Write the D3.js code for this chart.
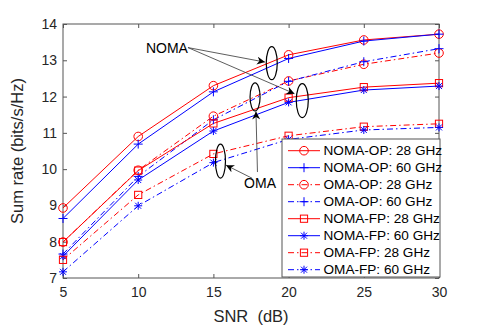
<!DOCTYPE html>
<html>
<head>
<meta charset="utf-8">
<script src="https://cdn.jsdelivr.net/npm/d3@7"></script>
<style>
  body { margin: 0; background: #fff; }
  svg { font-family: "Liberation Sans", Arial, sans-serif; }
</style>
</head>
<body>
<svg width="485" height="325"></svg>
<script>
let snr = [5, 10, 15, 20, 25, 30];
let nomaOp28 = [8.93, 10.90, 12.30, 13.15, 13.56, 13.72];
let nomaOp60 = [8.64, 10.69, 12.13, 13.05, 13.53, 13.72];
let omaOp28 = [7.99, 9.97, 11.46, 12.43, 12.89, 13.20];
let omaOp60 = [7.66, 9.80, 11.36, 12.42, 12.96, 13.32];
let nomaFp28 = [7.99, 9.96, 11.26, 11.97, 12.26, 12.37];
let nomaFp60 = [7.60, 9.70, 11.05, 11.84, 12.18, 12.29];
let omaFp28 = [7.50, 9.29, 10.42, 10.92, 11.17, 11.25];
let omaFp60 = [7.17, 8.99, 10.18, 10.82, 11.08, 11.15];
let xTicks = [5, 10, 15, 20, 25, 30];
let yTicks = [7, 8, 9, 10, 11, 12, 13, 14];

let series = [
  {name: 'NOMA-OP: 28 GHz', values: nomaOp28, color: 'red', dash: null, marker: 'circle'},
  {name: 'NOMA-OP: 60 GHz', values: nomaOp60, color: 'blue', dash: null, marker: 'plus'},
  {name: 'OMA-OP: 28 GHz', values: omaOp28, color: 'red', dash: '6,3,1.5,3', marker: 'circle'},
  {name: 'OMA-OP: 60 GHz', values: omaOp60, color: 'blue', dash: '6,3,1.5,3', marker: 'plus'},
  {name: 'NOMA-FP: 28 GHz', values: nomaFp28, color: 'red', dash: null, marker: 'square'},
  {name: 'NOMA-FP: 60 GHz', values: nomaFp60, color: 'blue', dash: null, marker: 'star'},
  {name: 'OMA-FP: 28 GHz', values: omaFp28, color: 'red', dash: '6,3,1.5,3', marker: 'square'},
  {name: 'OMA-FP: 60 GHz', values: omaFp60, color: 'blue', dash: '6,3,1.5,3', marker: 'star'}
];

let margin = {left: 63, right: 46, top: 24, bottom: 47};
let w = 485, h = 325;
let svg = d3.select('svg');
let axisColor = '#555';

let xScale = d3.scaleLinear().domain([5, 30]).range([margin.left, w - margin.right]);
let yScale = d3.scaleLinear().domain([7, 14]).range([h - margin.bottom, margin.top]);

// box
svg.append('rect')
  .attr('x', xScale(5)).attr('y', yScale(14))
  .attr('width', xScale(30) - xScale(5)).attr('height', yScale(7) - yScale(14))
  .attr('fill', 'none').attr('stroke', axisColor).attr('stroke-width', 1);

let styleAxis = g => {
  g.select('.domain').remove();
  g.selectAll('line').attr('stroke', axisColor);
  g.selectAll('text').attr('fill', '#262626').style('font-size', '14px').style('font-family', '"Liberation Sans", Arial, sans-serif');
};

svg.append('g')
  .attr('transform', 'translate(0,' + yScale(7) + ')')
  .call(d3.axisBottom(xScale).tickValues(xTicks).tickSizeInner(-4).tickPadding(9).tickFormat(d3.format('d')))
  .call(styleAxis);
svg.append('g')
  .attr('transform', 'translate(0,' + yScale(14) + ')')
  .call(d3.axisTop(xScale).tickValues(xTicks).tickSizeInner(-4).tickFormat(''))
  .call(styleAxis);
svg.append('g')
  .attr('transform', 'translate(' + xScale(5) + ',0)')
  .call(d3.axisLeft(yScale).tickValues(yTicks).tickSizeInner(-4).tickPadding(6).tickFormat(d3.format('d')))
  .call(styleAxis);
svg.append('g')
  .attr('transform', 'translate(' + xScale(30) + ',0)')
  .call(d3.axisRight(yScale).tickValues(yTicks).tickSizeInner(-4).tickFormat(''))
  .call(styleAxis);

// axis labels
svg.append('text')
  .attr('x', (xScale(5) + xScale(30)) / 2).attr('y', 322)
  .attr('text-anchor', 'middle').attr('fill', '#262626')
  .style('font-size', '16.5px').attr('xml:space', 'preserve')
  .text('SNR  (dB)');
svg.append('text')
  .attr('transform', 'translate(23,' + ((yScale(7) + yScale(14)) / 2) + ') rotate(-90)')
  .attr('text-anchor', 'middle').attr('fill', '#262626')
  .style('font-size', '16.5px')
  .text('Sum rate (bits/s/Hz)');

let drawMarker = (g, type, color, x, y) => {
  if (type === 'circle') {
    g.append('circle').attr('cx', x).attr('cy', y).attr('r', 4.3)
      .attr('fill', 'none').attr('stroke', color).attr('stroke-width', 1);
  } else if (type === 'square') {
    g.append('rect').attr('x', x - 3.6).attr('y', y - 3.6).attr('width', 7.2).attr('height', 7.2)
      .attr('fill', 'none').attr('stroke', color).attr('stroke-width', 1);
  } else if (type === 'plus') {
    g.append('path').attr('d', `M${x - 4.5},${y}H${x + 4.5}M${x},${y - 4.5}V${y + 4.5}`)
      .attr('stroke', color).attr('stroke-width', 1);
  } else if (type === 'star') {
    let a = 4, b = 3;
    g.append('path').attr('d', `M${x - a},${y}H${x + a}M${x},${y - a}V${y + a}M${x - b},${y - b}L${x + b},${y + b}M${x - b},${y + b}L${x + b},${y - b}`)
      .attr('stroke', color).attr('stroke-width', 1);
  }
};

let line = d3.line().x((d, i) => xScale(snr[i])).y(d => yScale(d));

let plot = svg.append('g');
series.forEach(s => {
  plot.append('path')
    .datum(s.values)
    .attr('d', line)
    .attr('fill', 'none')
    .attr('stroke', s.color)
    .attr('stroke-width', 1)
    .attr('stroke-dasharray', s.dash);
});
series.forEach(s => {
  s.values.forEach((v, i) => drawMarker(plot, s.marker, s.color, xScale(snr[i]), yScale(v)));
});

// annotations (data coordinates)
let defs = svg.append('defs');
defs.append('marker')
  .attr('id', 'arrow').attr('viewBox', '0 0 10 10')
  .attr('refX', 10).attr('refY', 5)
  .attr('markerWidth', 10).attr('markerHeight', 8)
  .attr('markerUnits', 'userSpaceOnUse')
  .attr('orient', 'auto')
  .append('path').attr('d', 'M0,0L10,5L0,10L3,5Z').attr('fill', '#000');

let ellipses = [
  {x: 18.88, y: 12.92, rx: 5.5, ry: 16.5},
  {x: 20.91, y: 11.89, rx: 6, ry: 17},
  {x: 17.77, y: 11.99, rx: 5, ry: 14},
  {x: 15.47, y: 10.22, rx: 5, ry: 17}
];
ellipses.forEach(e => {
  svg.append('ellipse')
    .attr('cx', xScale(e.x)).attr('cy', yScale(e.y))
    .attr('rx', e.rx).attr('ry', e.ry)
    .attr('fill', 'none').attr('stroke', '#000').attr('stroke-width', 1.2);
});

let arrows = [
  {x1: 13.31, y1: 13.35, x2: 18.43, y2: 12.95},
  {x1: 13.31, y1: 13.35, x2: 20.39, y2: 12.08},
  {x1: 17.93, y1: 9.92, x2: 17.83, y2: 11.59},
  {x1: 17.57, y1: 9.75, x2: 15.84, y2: 10.11}
];
arrows.forEach(a => {
  svg.append('line')
    .attr('x1', xScale(a.x1)).attr('y1', yScale(a.y1))
    .attr('x2', xScale(a.x2)).attr('y2', yScale(a.y2))
    .attr('stroke', '#333').attr('stroke-width', 0.8)
    .attr('marker-end', 'url(#arrow)');
});

let notes = [
  {text: 'NOMA', x: 11.91, y: 13.34},
  {text: 'OMA', x: 18.1, y: 9.62}
];
notes.forEach(n => {
  svg.append('text')
    .attr('x', xScale(n.x)).attr('y', yScale(n.y))
    .attr('dy', '0.35em').attr('text-anchor', 'middle')
    .attr('fill', '#000').style('font-size', '14px')
    .text(n.text);
});

// legend
let lg = svg.append('g').attr('transform', 'translate(282,139)');
lg.append('rect').attr('width', 158).attr('height', 138)
  .attr('fill', '#fff').attr('stroke', axisColor).attr('stroke-width', 1);
series.forEach((s, i) => {
  let yy = 11.7 + i * 17;
  lg.append('line').attr('x1', 6).attr('x2', 38).attr('y1', yy).attr('y2', yy)
    .attr('stroke', s.color).attr('stroke-width', 1)
    .attr('stroke-dasharray', s.dash);
  drawMarker(lg, s.marker, s.color, 22, yy);
  lg.append('text').attr('x', 41.5).attr('y', yy).attr('dy', '0.35em')
    .attr('fill', '#000').style('font-size', '13.6px')
    .text(s.name);
});
</script>
</body>
</html>
